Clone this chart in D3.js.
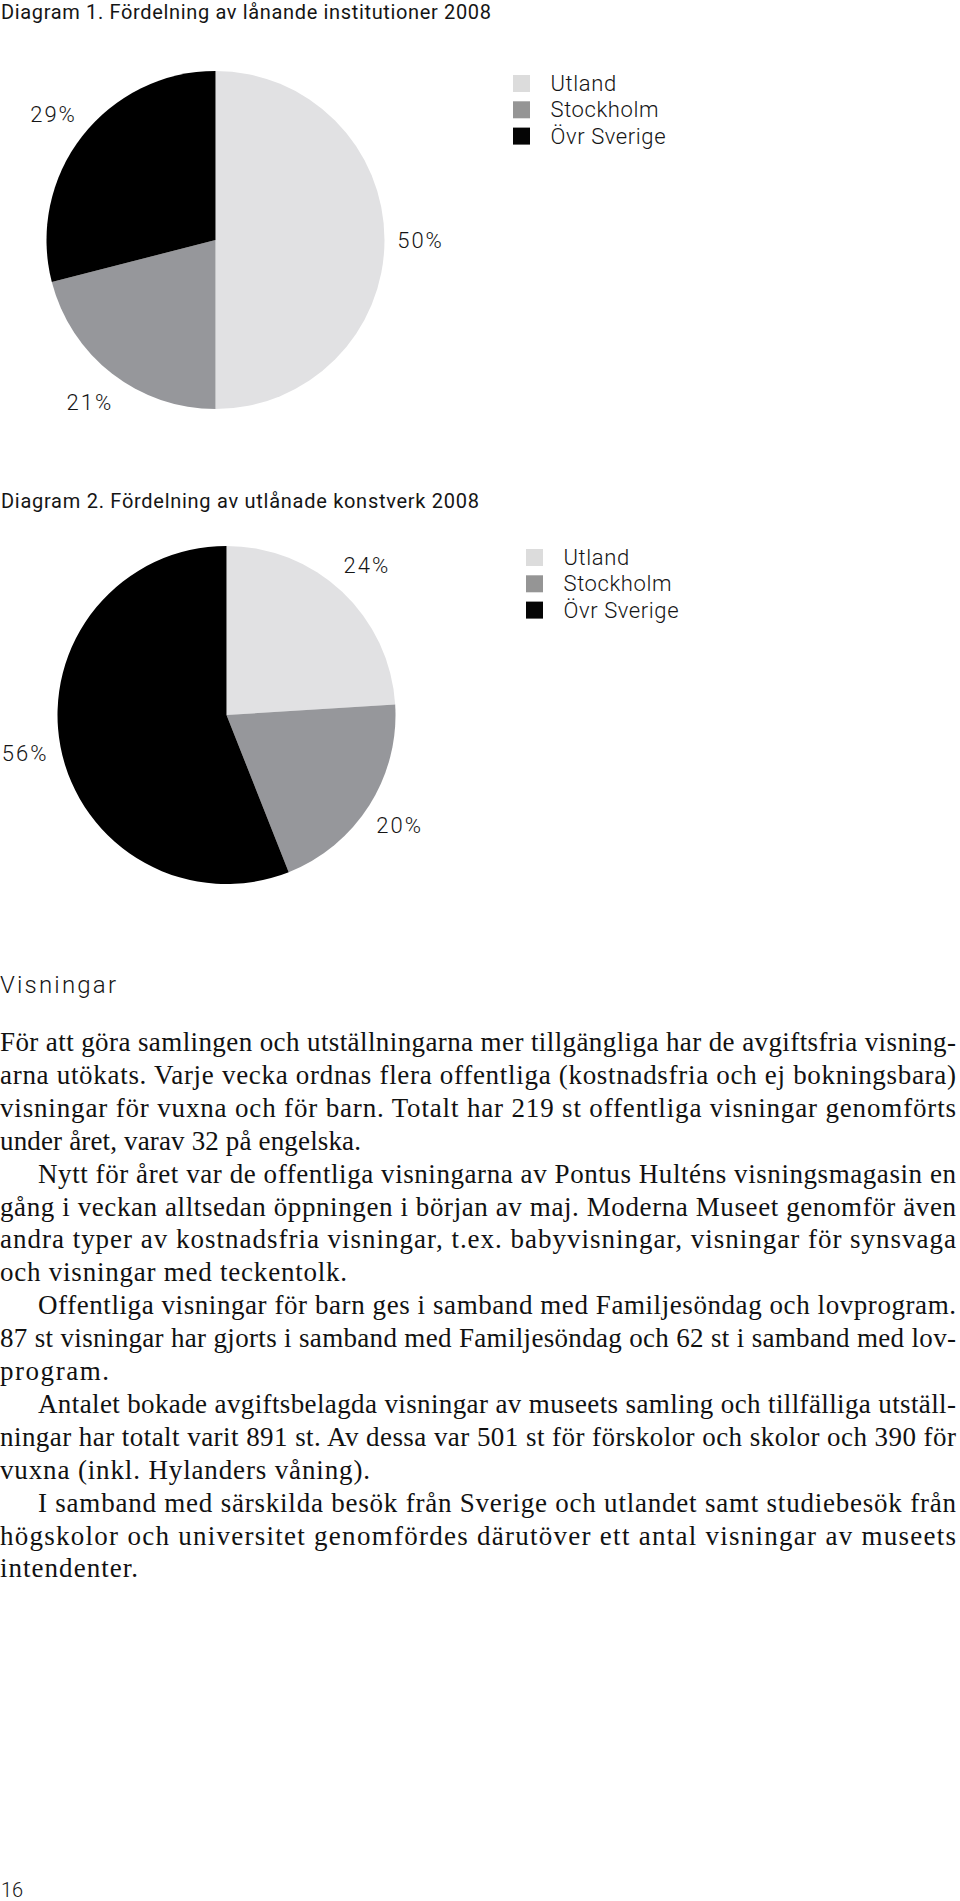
<!DOCTYPE html>
<html>
<head>
<meta charset="utf-8">
<script src="https://cdn.jsdelivr.net/npm/d3@7"></script>
<style>
  html, body { margin: 0; padding: 0; background: #fff; }
  svg { display: block; }
</style>
</head>
<body>
<svg id="page" width="960" height="1901"></svg>
<script>
// ---------------- DATA ----------------
const categories = ["Utland", "Stockholm", "Övr Sverige"];
const lendingInstitutions2008 = [50, 21, 29];   // Diagram 1 (%)
const loanedArtworks2008 = [24, 20, 56];        // Diagram 2 (%)
const chartTitles = [
  "Diagram 1. Fördelning av lånande institutioner 2008",
  "Diagram 2. Fördelning av utlånade konstverk 2008"
];
const sectionHeading = "Visningar";
const paragraphs = [
  ["För att göra samlingen och utställningarna mer tillgängliga har de avgiftsfria visning-",
   "arna utökats. Varje vecka ordnas flera offentliga (kostnadsfria och ej bokningsbara)",
   "visningar för vuxna och för barn. Totalt har 219 st offentliga visningar genomförts",
   "under året, varav 32 på engelska."],
  ["Nytt för året var de offentliga visningarna av Pontus Hulténs visningsmagasin en",
   "gång i veckan alltsedan öppningen i början av maj. Moderna Museet genomför även",
   "andra typer av kostnadsfria visningar, t.ex. babyvisningar, visningar för synsvaga",
   "och visningar med teckentolk."],
  ["Offentliga visningar för barn ges i samband med Familjesöndag och lovprogram.",
   "87 st visningar har gjorts i samband med Familjesöndag och 62 st i samband med lov-",
   "program."],
  ["Antalet bokade avgiftsbelagda visningar av museets samling och tillfälliga utställ-",
   "ningar har totalt varit 891 st. Av dessa var 501 st för förskolor och skolor och 390 för",
   "vuxna (inkl. Hylanders våning)."],
  ["I samband med särskilda besök från Sverige och utlandet samt studiebesök från",
   "högskolor och universitet genomfördes därutöver ett antal visningar av museets",
   "intendenter."]
];
const pageNumber = "16";

// ---------------- LAYOUT / STYLE ----------------
const sans = "Roboto, 'Open Sans', sans-serif";
const serif = "'Liberation Serif', 'Times New Roman', serif";
const textColor = "#151515";
const color = d3.scaleOrdinal().domain(categories).range(["#e1e1e3", "#96979b", "#000000"]);
const legendColor = d3.scaleOrdinal().domain(categories).range(["#dcdcdc", "#959595", "#050505"]);

const svg = d3.select("#page");
svg.append("rect").attr("width", 960).attr("height", 1901).attr("fill", "#fff");

const pieGen = d3.pie().sort(null).value(d => d.value);
const R = 169;
const arc = d3.arc().innerRadius(0).outerRadius(R);
const labelArc = d3.arc().innerRadius(205).outerRadius(205);

const charts = [
  {title: chartTitles[0], values: lendingInstitutions2008, titleY: 18.5, titleW: 490,
   cx: 215.5, cy: 240, legendX: 513, legendY: 75},
  {title: chartTitles[1], values: loanedArtworks2008, titleY: 507.5, titleW: 478,
   cx: 226.5, cy: 715, legendX: 526, legendY: 549}
];

charts.forEach(c => {
  svg.append("text")
    .attr("x", 1).attr("y", c.titleY)
    .attr("font-family", sans).attr("font-size", 20)
    .attr("fill", textColor)
    .attr("textLength", c.titleW).attr("lengthAdjust", "spacing")
    .text(c.title);

  const data = categories.map((k, i) => ({key: k, value: c.values[i]}));
  const g = svg.append("g").attr("transform", `translate(${c.cx},${c.cy})`);
  const arcs = pieGen(data);
  g.selectAll("path").data(arcs).join("path")
    .attr("d", arc)
    .attr("fill", d => color(d.data.key));
  g.selectAll("text").data(arcs).join("text")
    .attr("transform", d => `translate(${labelArc.centroid(d)})`)
    .attr("text-anchor", "middle")
    .attr("dy", "0.36em")
    .attr("font-family", sans).attr("font-size", 22).attr("font-weight", 300)
    .attr("letter-spacing", 2)
    .attr("fill", textColor)
    .text(d => d.data.value + "%");

  const lg = svg.append("g").attr("transform", `translate(${c.legendX},${c.legendY})`);
  const item = lg.selectAll("g").data(categories).join("g")
    .attr("transform", (d, i) => `translate(0,${i * 26.3})`);
  item.append("rect").attr("width", 17).attr("height", 17)
    .attr("fill", d => legendColor(d));
  item.append("text")
    .attr("x", 37.5).attr("y", 16)
    .attr("font-family", sans).attr("font-size", 22).attr("font-weight", 300)
    .attr("letter-spacing", 0.6)
    .attr("fill", textColor)
    .text(d => d);
});

// Section heading
svg.append("text")
  .attr("x", 0).attr("y", 993)
  .attr("font-family", sans).attr("font-size", 24).attr("font-weight", 300)
  .attr("fill", textColor)
  .attr("textLength", 116).attr("lengthAdjust", "spacing")
  .text(sectionHeading);

// Body text (justified lines)
const firstBaseline = 1051;
const lineStep = 32.9;
const rightEdge = 956;
const indent = 38;
const lastLineWidths = [361, 347, 109, 370, 138];
let lineIndex = 0;
paragraphs.forEach((lines, p) => {
  lines.forEach((line, j) => {
    const x = (p > 0 && j === 0) ? indent : 0;
    const isLast = j === lines.length - 1;
    const w = isLast ? lastLineWidths[p] : rightEdge - x;
    svg.append("text")
      .attr("x", x)
      .attr("y", firstBaseline + lineIndex * lineStep)
      .attr("font-family", serif).attr("font-size", 27)
      .attr("fill", "#111")
      .attr("textLength", w).attr("lengthAdjust", "spacing")
      .text(line);
    lineIndex++;
  });
});

// Page number
svg.append("text")
  .attr("x", 1).attr("y", 1897)
  .attr("font-family", sans).attr("font-size", 20).attr("font-weight", 300)
  .attr("fill", textColor)
  .text(pageNumber);
</script>
</body>
</html>
